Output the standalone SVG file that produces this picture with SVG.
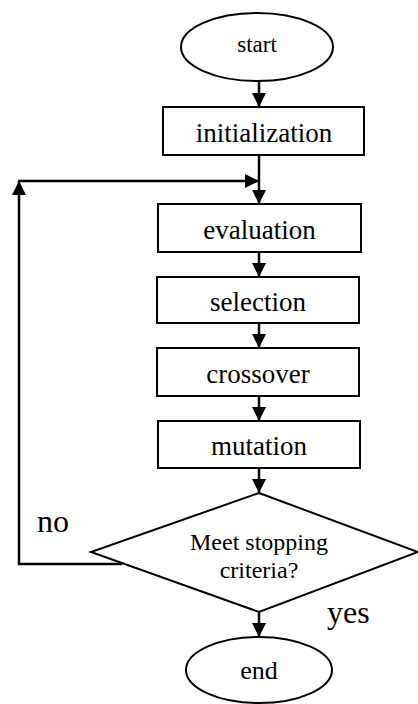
<svg xmlns="http://www.w3.org/2000/svg" width="418" height="704" viewBox="0 0 418 704">
  <style>
    .shape { fill: #fff; stroke: #000; stroke-width: 2; }
    .conn { fill: none; stroke: #000; stroke-width: 2.5; }
    .lbl { font-family: "Liberation Serif", "Times New Roman", serif; fill: #000; text-anchor: middle; }
    .big { font-family: "Liberation Serif", "Times New Roman", serif; fill: #000; font-size: 32px; }
  </style>
  <defs>
    <marker id="arrow" markerUnits="userSpaceOnUse" markerWidth="14" markerHeight="14" viewBox="0 0 14 14" refX="14" refY="7" orient="auto">
      <path d="M0,0 L14,7 L0,14 Z" fill="#000"/>
    </marker>
  </defs>

  <g id="connectors">
    <line class="conn" x1="259" y1="81" x2="259" y2="107" marker-end="url(#arrow)"/>
    <line class="conn" x1="259" y1="155" x2="259" y2="204" marker-end="url(#arrow)"/>
    <polyline class="conn" points="122,564 19,564 19,181" marker-end="url(#arrow)"/>
    <line class="conn" x1="18" y1="181" x2="259" y2="181" marker-end="url(#arrow)"/>
    <line class="conn" x1="259" y1="252" x2="259" y2="277" marker-end="url(#arrow)"/>
    <line class="conn" x1="259" y1="323" x2="259" y2="348" marker-end="url(#arrow)"/>
    <line class="conn" x1="259" y1="396" x2="259" y2="421" marker-end="url(#arrow)"/>
    <line class="conn" x1="259" y1="468" x2="259" y2="493" marker-end="url(#arrow)"/>
    <line class="conn" x1="259" y1="612" x2="259" y2="637" marker-end="url(#arrow)"/>
  </g>

  <g id="start">
    <ellipse class="shape" cx="257" cy="47" rx="76" ry="34"/>
    <text class="lbl" x="257" y="52" font-size="23">start</text>
  </g>
  <g id="initialization">
    <rect class="shape" x="163" y="107" width="201" height="48"/>
    <text class="lbl" x="264" y="142" font-size="27">initialization</text>
  </g>
  <g id="evaluation">
    <rect class="shape" x="158" y="204" width="203" height="48"/>
    <text class="lbl" x="259.5" y="239" font-size="27">evaluation</text>
  </g>
  <g id="selection">
    <rect class="shape" x="157" y="277" width="202" height="46"/>
    <text class="lbl" x="258" y="311" font-size="27">selection</text>
  </g>
  <g id="crossover">
    <rect class="shape" x="157" y="348" width="202" height="48"/>
    <text class="lbl" x="258" y="383" font-size="27">crossover</text>
  </g>
  <g id="mutation">
    <rect class="shape" x="158" y="421" width="202" height="47"/>
    <text class="lbl" x="259" y="455" font-size="27">mutation</text>
  </g>
  <g id="decision">
    <polygon class="shape" points="259,493 418,552 259,612 91,552"/>
    <text class="lbl" x="259" y="550" font-size="24">Meet stopping</text>
    <text class="lbl" x="259" y="578" font-size="24">criteria?</text>
  </g>
  <g id="end">
    <ellipse class="shape" cx="259" cy="670" rx="73" ry="33"/>
    <text class="lbl" x="259" y="679" font-size="26">end</text>
  </g>
  <g id="labels">
    <text class="big" x="37" y="532">no</text>
    <text class="big" x="327" y="623">yes</text>
  </g>
</svg>
